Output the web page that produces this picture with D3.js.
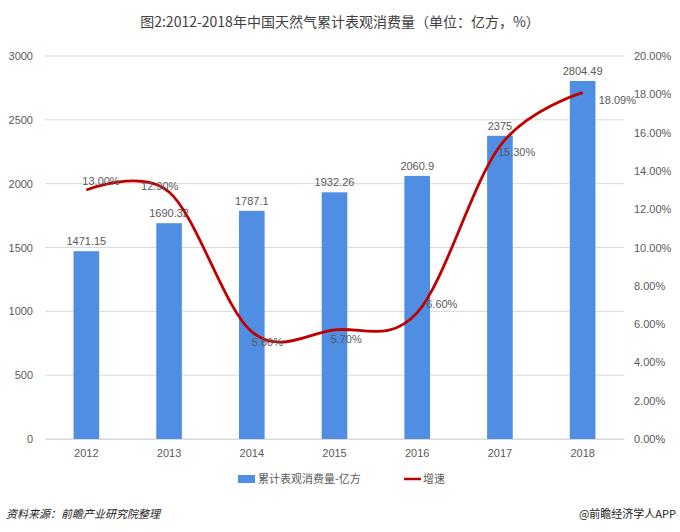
<!DOCTYPE html>
<html>
<head>
<meta charset="utf-8">
<script src="https://d3js.org/d3.v7.min.js"></script>
<style>
  body { margin: 0; background: #fff; font-family: "Noto Sans CJK SC", "Liberation Sans", sans-serif; }
  text { fill: #595959; }
</style>
</head>
<body>
<script>
  const years = ["2012", "2013", "2014", "2015", "2016", "2017", "2018"];
  const volume = [1471.15, 1690.32, 1787.1, 1932.26, 2060.9, 2375, 2804.49];
  const growth = [13.00, 12.90, 5.60, 5.70, 6.60, 15.30, 18.09];
  const volumeLabels = ["1471.15", "1690.32", "1787.1", "1932.26", "2060.9", "2375", "2804.49"];
  const growthLabels = ["13.00%", "12.90%", "5.60%", "5.70%", "6.60%", "15.30%", "18.09%"];

  // label offsets for growth labels (dx, dy from the point)
  const gOff = [[-4, -5], [-28, -2], [0, 14], [-4, 13], [9, -5], [-2, 10], [16, 11]];

  const w = 680, h = 532;
  const mLeft = 45, mRight = 624, mTop = 56, mBottom = 439;

  const svg = d3.select("body").append("svg").attr("width", w).attr("height", h);

  svg.append("text").attr("x", 340).attr("y", 27).attr("text-anchor", "middle")
     .style("font-size", "14px").style("fill", "#404040")
     .text("图2:2012-2018年中国天然气累计表观消费量（单位：亿方，%）");

  const x = d3.scaleBand().domain(years).range([mLeft, mRight]).paddingInner(0.69).paddingOuter(0.345);
  const y = d3.scaleLinear().domain([0, 3000]).range([mBottom, mTop]);
  const y2 = d3.scaleLinear().domain([0, 20]).range([mBottom, mTop]);

  // gridlines
  svg.append("g").selectAll("line").data(y.ticks(6)).join("line")
     .attr("x1", mLeft).attr("x2", mRight)
     .attr("y1", d => y(d)).attr("y2", d => y(d))
     .attr("stroke", "#d9d9d9");

  const yAxis = svg.append("g").attr("transform", `translate(${mLeft},0)`)
     .call(d3.axisLeft(y).ticks(6).tickSize(0).tickPadding(12).tickFormat(d => d));
  const y2Axis = svg.append("g").attr("transform", `translate(${mRight},0)`)
     .call(d3.axisRight(y2).ticks(10).tickSize(0).tickPadding(10).tickFormat(d => d.toFixed(2) + "%"));
  const xAxis = svg.append("g").attr("transform", `translate(0,${mBottom})`)
     .call(d3.axisBottom(x).tickSize(0).tickPadding(10));
  [yAxis, y2Axis].forEach(a => a.select(".domain").remove());
  xAxis.select(".domain").attr("stroke", "#d9d9d9");
  svg.selectAll(".tick text").style("font-size", "11px").style("fill", "#595959")
     .style("font-family", "Liberation Sans, sans-serif");

  // bars
  svg.append("g").selectAll("rect").data(volume).join("rect")
     .attr("x", (d, i) => x(years[i]))
     .attr("y", d => y(d))
     .attr("width", x.bandwidth())
     .attr("height", d => mBottom - y(d))
     .attr("fill", "#4f8ee2");

  svg.append("g").selectAll("text").data(volume).join("text")
     .attr("x", (d, i) => x(years[i]) + x.bandwidth() / 2)
     .attr("y", d => y(d) - 6)
     .attr("text-anchor", "middle")
     .style("font-size", "11px").style("font-family", "Liberation Sans, sans-serif")
     .text((d, i) => volumeLabels[i]);

  // line
  const cx = i => x(years[i]) + x.bandwidth() / 2;
  const line = d3.line().x((d, i) => cx(i)).y(d => y2(d)).curve(d3.curveCatmullRom.alpha(0));
  svg.append("path").datum(growth).attr("d", line)
     .attr("fill", "none").attr("stroke", "#c00000").attr("stroke-width", 2.8);

  svg.append("g").selectAll("text").data(growth).join("text")
     .attr("x", (d, i) => cx(i) + gOff[i][0])
     .attr("y", (d, i) => y2(d) + gOff[i][1])
     .style("font-size", "11px").style("font-family", "Liberation Sans, sans-serif")
     .text((d, i) => growthLabels[i]);

  // legend
  const lg = svg.append("g").attr("transform", "translate(238,479)");
  lg.append("rect").attr("x", 0).attr("y", -4).attr("width", 17).attr("height", 8).attr("fill", "#4f8ee2");
  lg.append("text").attr("x", 20).attr("y", 4).style("font-size", "11px").text("累计表观消费量-亿方");
  lg.append("line").attr("x1", 166).attr("x2", 183).attr("y1", 0).attr("y2", 0)
     .attr("stroke", "#c00000").attr("stroke-width", 2.5);
  lg.append("text").attr("x", 185).attr("y", 4).style("font-size", "11px").text("增速");

  svg.append("text").attr("x", 6).attr("y", 518).style("font-size", "11px")
     .style("font-style", "italic").style("fill", "#222").text("资料来源：前瞻产业研究院整理");
  svg.append("text").attr("x", 676).attr("y", 518).attr("text-anchor", "end")
     .style("font-size", "11px").style("fill", "#222").text("@前瞻经济学人APP");
</script>
</body>
</html>
